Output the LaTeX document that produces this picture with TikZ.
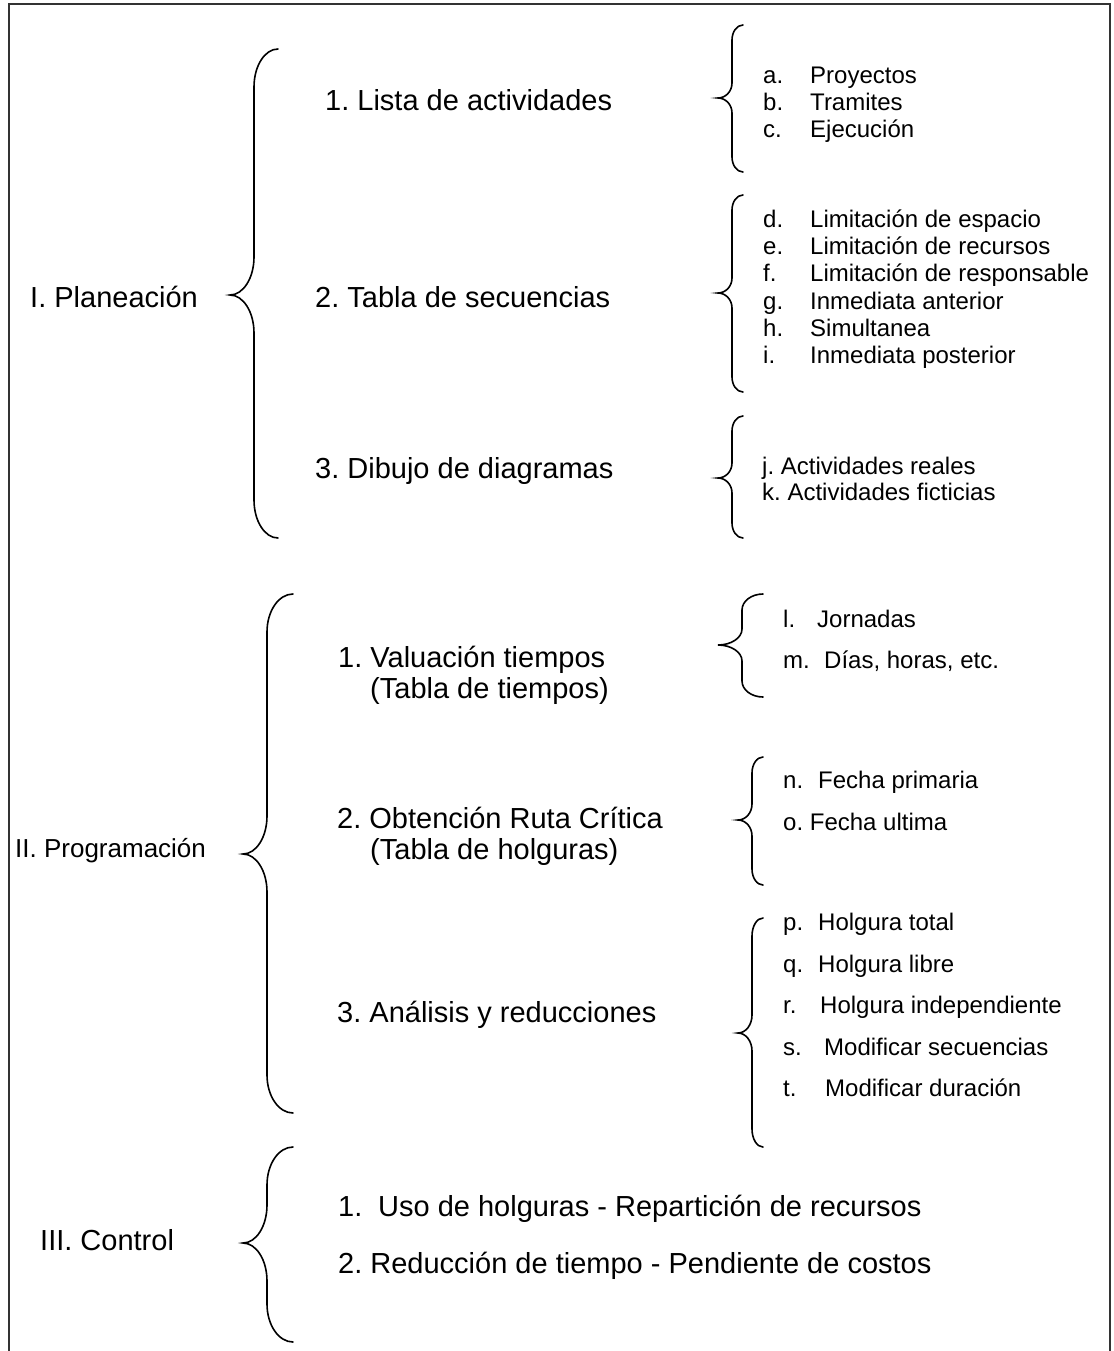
\documentclass[tikz,border=0pt]{standalone}
\usepackage{fontspec}
\setmainfont{Liberation Sans}
\frenchspacing
\newcommand{\curlybr}[7]{% xe, xv, xt, yt, ym, yb, r
  \draw[bracestyle] (#1,#4) .. controls ({#1-0.552*(#1-#2)},#4) and (#2,{#4+0.448*#7}) .. (#2,{#4+#7})
    -- (#2,{#5-#7}) .. controls (#2,{#5-0.448*#7}) and ({#3+0.552*(#2-#3)},#5) .. (#3,#5)
    .. controls ({#3+0.552*(#2-#3)},#5) and (#2,{#5+0.448*#7}) .. (#2,{#5+#7})
    -- (#2,{#6-#7}) .. controls (#2,{#6-0.448*#7}) and ({#1-0.552*(#1-#2)},#6) .. (#1,#6);}
\begin{document}
\begin{tikzpicture}[x=1pt,y=-1pt,
  main/.style={anchor=base west, inner sep=0pt, font=\fontsize{29}{33}\selectfont\frenchspacing},
  prog/.style={anchor=base west, inner sep=0pt, font=\fontsize{26}{30}\selectfont\frenchspacing},
  sub/.style={anchor=base west, inner sep=0pt, font=\fontsize{24}{27}\selectfont\frenchspacing},
  bracestyle/.style={line width=1.6pt, line cap=round},
  frame/.style={line width=1.3pt, draw=black!80}]
\useasboundingbox (0,0) rectangle (1113,1351);
\draw[frame] (9,1360) -- (9,4) -- (1110,4) -- (1110,1360);

% ---- level I
\node[main] (plan) at (30,307) {I. Planeación};
\node[prog] (prog) at (15,857) {II. Programación};
\node[main] (ctrl) at (40,1250) {III. Control};

\curlybr{278}{254}{230}{49}{295}{538}{38}
\curlybr{293}{267}{243}{594}{854}{1113}{38}
\curlybr{293}{267}{243}{1147}{1243}{1342}{38}

% ---- level II
\node[main] (p1) at (325,111) {1. Lista de actividades};
\node[main] (p2) at (315,307) {2. Tabla de secuencias};
\node[main] (p3) at (315,478) {3. Dibujo de diagramas};

\node[main] (g1a) at (338,667) {1. Valuación tiempos};
\node[main] (g1b) at (370,698) {(Tabla de tiempos)};
\node[main] (g2a) at (337,828) {2. Obtención Ruta Crítica};
\node[main] (g2b) at (370,859) {(Tabla de holguras)};
\node[main] (g3) at (337,1022) {3. Análisis y reducciones};

\node[main] (c1) at (338,1216) {\makebox[40pt][l]{1.}Uso de holguras - Repartición de recursos};
\node[main] (c2) at (338,1273) {2. Reducción de tiempo - Pendiente de costos};

% ---- level III braces
\curlybr{743}{732}{718}{25}{98}{172}{15}
\curlybr{743}{732}{718}{195}{293}{392}{15}
\curlybr{743}{732}{718}{416}{478}{538}{15}
\curlybr{763}{742}{718}{594}{645}{697}{16}
\curlybr{763}{752}{738}{757}{820}{885}{16}
\curlybr{763}{752}{738}{918}{1033}{1147}{18}

% ---- level III items
\node[sub] (a) at (763,84) {\makebox[47pt][l]{a.}Proyectos};
\node[sub] (b) at (763,111) {\makebox[47pt][l]{b.}Tramites};
\node[sub] (c) at (763,138) {\makebox[47pt][l]{c.}Ejecución};

\node[sub] (d) at (763,227) {\makebox[47pt][l]{d.}Limitación de espacio};
\node[sub] (e) at (763,254) {\makebox[47pt][l]{e.}Limitación de recursos};
\node[sub] (f) at (763,281) {\makebox[47pt][l]{f.}Limitación de responsable};
\node[sub] (g) at (763,309) {\makebox[47pt][l]{g.}Inmediata anterior};
\node[sub] (h) at (763,336) {\makebox[47pt][l]{h.}Simultanea};
\node[sub] (i) at (763,363) {\makebox[47pt][l]{i.}Inmediata posterior};

\node[sub] (j) at (762,474) {j. Actividades reales};
\node[sub] (k) at (762,500) {k. Actividades ficticias};

\node[sub] (l) at (783,627) {\makebox[34pt][l]{l.}Jornadas};
\node[sub] (m) at (783,668) {\makebox[41pt][l]{m.}Días, horas, etc.};

\node[sub] (n) at (783,788) {\makebox[35pt][l]{n.}Fecha primaria};
\node[sub] (o) at (783,830) {o. Fecha ultima};

\node[sub] (p) at (783,930) {\makebox[35pt][l]{p.}Holgura total};
\node[sub] (q) at (783,972) {\makebox[35pt][l]{q.}Holgura libre};
\node[sub] (r) at (783,1013) {\makebox[37pt][l]{r.}Holgura independiente};
\node[sub] (s) at (783,1055) {\makebox[41pt][l]{s.}Modificar secuencias};
\node[sub] (t) at (783,1096) {\makebox[42pt][l]{t.}Modificar duración};
\end{tikzpicture}
\end{document}
